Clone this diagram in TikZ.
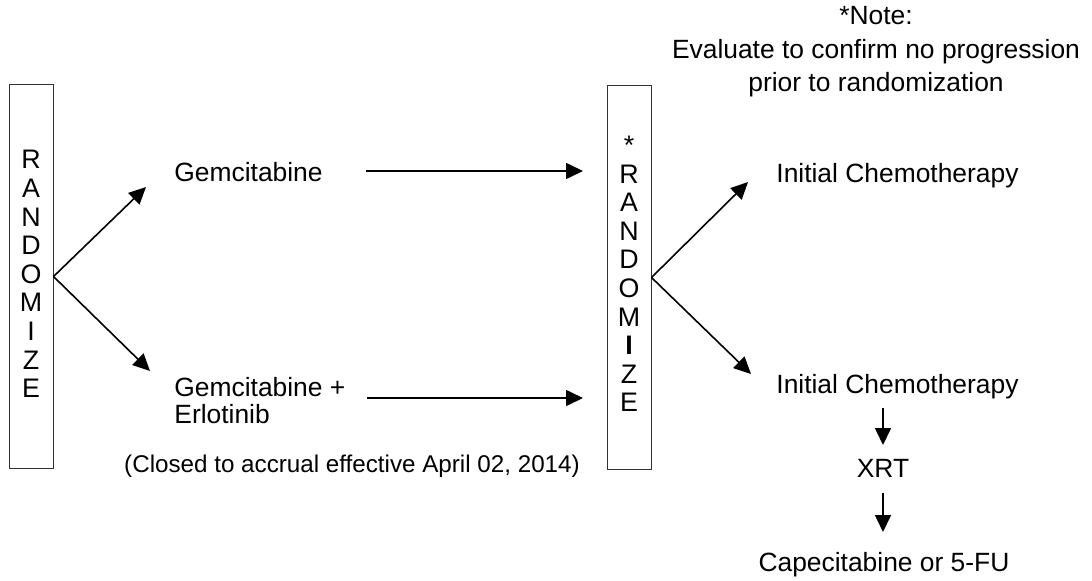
\documentclass[tikz,border=0pt]{standalone}
\usepackage{fontspec}
\setmainfont{Liberation Sans}
\usetikzlibrary{arrows.meta}
\begin{document}
\begin{tikzpicture}[x=0.5pt,y=-0.5pt,
  every node/.style={font=\fontsize{13.2}{16.5}\selectfont, inner sep=0pt},
  rbox/.style={draw=black!80, line width=0.5pt, rectangle, minimum width=22pt, minimum height=192pt},
  letters/.style={align=center, font=\fontsize{13.4}{14.3}\selectfont},
  conn/.style={line width=0.8pt, -{Triangle[length=8.5pt,width=8pt]}},
  lbl/.style={anchor=west}]
\useasboundingbox (0,0) rectangle (1092,580);
% boxes
\node[rbox] (lbox) at (31,276.5) {};
\node[rbox] (rbox) at (629,277.5) {};
\node[letters] (lletters) at (31,274)
  {R\\A\\N\\D\\O\\M\\I\\Z\\E};
\node[letters] (rletters) at (629,274)
  {*\\R\\A\\N\\D\\O\\M\\ \textbf{I}\\Z\\E};
% texts
\node[lbl] (gem) at (174,172) {Gemcitabine};
\node[lbl, align=left, font=\fontsize{13.2}{13.5}\selectfont] (gemerl) at (174,401) {Gemcitabine +\\Erlotinib};
\node[font=\fontsize{12.1}{14}\selectfont] (closed) at (352,466) {(Closed to accrual effective April 02, 2014)};
\node[lbl] (ic1) at (776,176) {Initial Chemotherapy};
\node[lbl] (ic2) at (776,387) {Initial Chemotherapy};
\node (xrt) at (883,468) {XRT};
\node (cap) at (884,565) {Capecitabine or 5-FU};
\node[align=center, font=\fontsize{13.2}{16.75}\selectfont] (note) at (876,52)
  {*Note:\\Evaluate to confirm no progression\\prior to randomization};
% coordinates
\coordinate (t1) at (146,187);
\coordinate (t2) at (150,371);
\coordinate (t3) at (748,182);
\coordinate (t4) at (751,374);
\coordinate (h1s) at (366,171);
\coordinate (h1e) at (583,171);
\coordinate (h2s) at (367,398);
\coordinate (h2e) at (583,398);
\coordinate (d1s) at (883,408);
\coordinate (d1e) at (883,445);
\coordinate (d2s) at (883,493);
\coordinate (d2e) at (883,532);
% connectors
\draw[conn] (lbox.east) -- (t1);
\draw[conn] (lbox.east) -- (t2);
\draw[conn] (rbox.east) -- (t3);
\draw[conn] (rbox.east) -- (t4);
\draw[conn] (h1s) -- (h1e);
\draw[conn] (h2s) -- (h2e);
\draw[conn] (d1s) -- (d1e);
\draw[conn] (d2s) -- (d2e);
\end{tikzpicture}
\end{document}
